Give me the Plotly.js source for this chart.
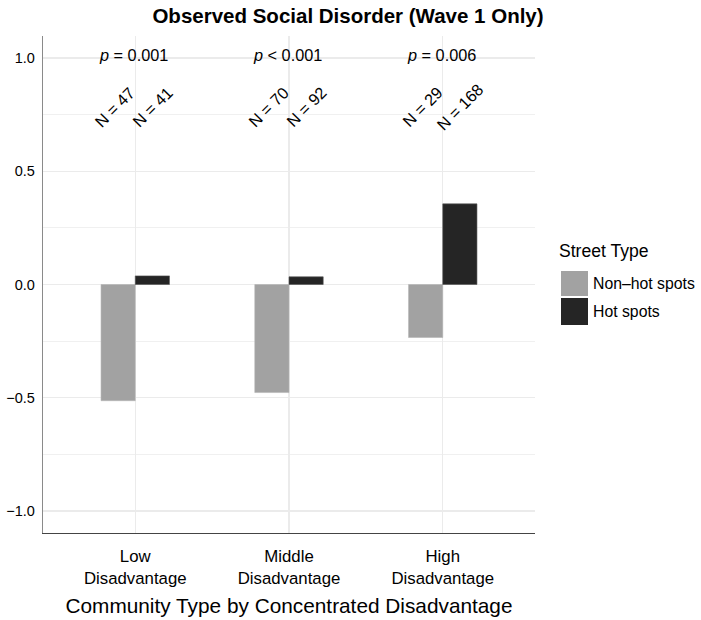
<!DOCTYPE html>
<html>
<head>
<meta charset="utf-8">
<script src="https://cdn.plot.ly/plotly-3.0.1.min.js"></script>
<style>html,body{margin:0;padding:0;background:#fff;}#chart{width:701px;height:620px;}</style>
</head>
<body>
<div id="chart"></div>
<script>
// ---- data ----
const categories = ["Low<br>Disadvantage", "Middle<br>Disadvantage", "High<br>Disadvantage"];
const seriesNames = ["Non\u2013hot spots", "Hot spots"];
const nonHotValues = [-0.513, -0.477, -0.234];
const hotValues = [0.038, 0.034, 0.356];
const nonHotN = ["N = 47", "N = 70", "N = 29"];
const hotN = ["N = 41", "N = 92", "N = 168"];
const pLabels = ["<i>p</i> = 0.001", "<i>p</i> < 0.001", "<i>p</i> = 0.006"];
const yTickVals = [-1.0, -0.5, 0.0, 0.5, 1.0];
const yTickText = ["\u22121.0", "\u22120.5", "0.0", "0.5", "1.0"];

const FONT = "Liberation Sans, Arial, Helvetica, sans-serif";
const colors = ["#a2a2a2", "#252525"];

const traces = [
  {type: "bar", x: categories, y: nonHotValues, name: seriesNames[0],
   marker: {color: colors[0], line: {color: "#b5b5b5", width: 0.6}}, showlegend: false, hoverinfo: "skip"},
  {type: "bar", x: categories, y: hotValues, name: seriesNames[1],
   marker: {color: colors[1], line: {color: "#555", width: 0.6}}, showlegend: false, hoverinfo: "skip"}
];

const annotations = [];
categories.forEach((c, i) => {
  annotations.push({x: i - 0.01, y: 1.013, xref: "x", yref: "y", text: pLabels[i], showarrow: false,
    xanchor: "center", yanchor: "middle", font: {family: FONT, size: 16.3, color: "#000"}});
  annotations.push({x: i - 0.135, y: 0.785, xref: "x", yref: "y", text: nonHotN[i], showarrow: false,
    textangle: -45, xanchor: "center", yanchor: "middle", font: {family: FONT, size: 16.3, color: "#000"}});
  annotations.push({x: i + 0.11, y: 0.785, xref: "x", yref: "y", text: hotN[i], showarrow: false,
    textangle: -45, xanchor: "center", yanchor: "middle", font: {family: FONT, size: 16.3, color: "#000"}});
});

// legend drawn manually (large swatches)
const px = v => (v - 43) / 492;
const py = v => (533 - v) / 497;
annotations.push({xref: "paper", yref: "paper", x: px(557), y: py(251), text: "Street Type", showarrow: false,
  xanchor: "left", yanchor: "middle", font: {family: FONT, size: 17.6, color: "#000"}});
const shapes = [];
const swY = [[271, 296], [298, 325]];
seriesNames.forEach((n, k) => {
  shapes.push({type: "rect", xref: "paper", yref: "paper", x0: px(561), x1: px(588),
    y0: py(swY[k][1]), y1: py(swY[k][0]), fillcolor: colors[k], line: {width: 0}});
  annotations.push({xref: "paper", yref: "paper", x: px(591), y: py((swY[k][0] + swY[k][1]) / 2), text: n,
    showarrow: false, xanchor: "left", yanchor: "middle", font: {family: FONT, size: 15.8, color: "#000"}});
});

const layout = {
  width: 701, height: 620,
  margin: {l: 43, r: 166, t: 36, b: 87, pad: 0},
  paper_bgcolor: "#fff", plot_bgcolor: "#fff",
  title: {text: "<b>Observed Social Disorder (Wave 1 Only)</b>", x: 348 / 701, xanchor: "center",
    y: 1 - 16 / 620, yanchor: "middle", font: {family: FONT, size: 20.5, color: "#000"}},
  barmode: "group", bargap: 0.555, bargroupgap: 0,
  showlegend: false,
  xaxis: {
    type: "category", range: [-0.6, 2.6],
    showgrid: true, gridcolor: "#ebebeb", gridwidth: 1.3,
    showline: true, linecolor: "#444", linewidth: 1.2,
    ticks: "", ticklabelstandoff: 8, tickfont: {family: FONT, size: 16.8, color: "#000"},
    title: {text: "Community Type by Concentrated Disadvantage", standoff: 11,
      font: {family: FONT, size: 20.8, color: "#000"}},
    zeroline: false, fixedrange: true
  },
  yaxis: {
    range: [-1.097, 1.097], tickvals: yTickVals, ticktext: yTickText,
    showgrid: true, gridcolor: "#ebebeb", gridwidth: 1.3,
    minor: {dtick: 0.25, tick0: 0, showgrid: true, gridcolor: "#f0f0f0", gridwidth: 1, ticks: ""},
    showline: true, linecolor: "#8a8a8a", linewidth: 1.2,
    ticks: "", ticklabelstandoff: 4, tickfont: {family: FONT, size: 14.5, color: "#000"},
    zeroline: false, fixedrange: true
  },
  annotations: annotations,
  shapes: shapes
};

Plotly.newPlot("chart", traces, layout, {staticPlot: true, displayModeBar: false});
</script>
</body>
</html>
